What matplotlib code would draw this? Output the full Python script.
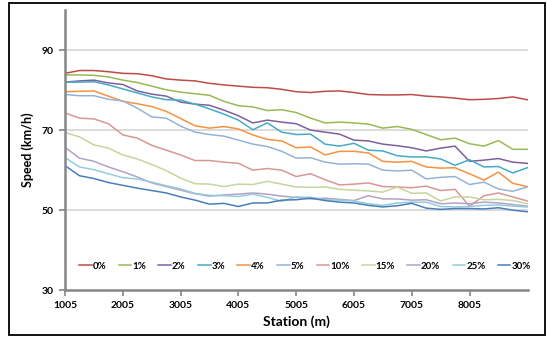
import numpy as np
import matplotlib.pyplot as plt
from matplotlib.patches import Rectangle

# stations every 250 m
station = np.arange(1005, 9006, 250)

labels = ['0%', '1%', '2%', '3%', '4%', '5%', '10%', '15%', '20%', '25%', '30%']
colors = ['#BE4B48', '#98B954', '#7D60A0', '#46AAC5', '#F69240', '#95B3D7',
          '#D99694', '#C3D69B', '#B3A2C7', '#93CDDD', '#4A7EBB']

s0 = [84.2, 84.9, 84.9, 84.6, 84.2, 84.1, 83.6, 82.8, 82.5, 82.3, 81.7, 81.3, 81.0, 80.7, 80.6, 80.2, 79.6,
      79.4, 79.7, 79.8, 79.4, 78.9, 78.8, 78.8, 78.9, 78.5, 78.3, 78.0, 77.6, 77.7, 77.9, 78.3, 77.6]
s1 = [83.8, 83.8, 83.7, 83.3, 82.5, 81.9, 81.0, 80.1, 79.5, 79.1, 78.7, 77.2, 76.1, 75.8, 74.9, 75.1, 74.4,
      73.0, 71.8, 72.0, 71.8, 71.5, 70.5, 70.9, 70.2, 68.9, 67.6, 68.0, 66.6, 66.0, 67.4, 65.2, 65.2]
s2 = [82.0, 82.3, 82.5, 81.8, 81.4, 79.8, 79.0, 78.5, 77.0, 76.5, 76.2, 75.0, 73.6, 71.8, 72.5, 72.0, 71.6,
      70.0, 69.5, 69.0, 67.5, 67.3, 66.5, 66.1, 65.6, 64.8, 65.5, 66.0, 62.2, 62.5, 62.9, 62.0, 61.7]
s3 = [82.0, 82.0, 82.1, 81.3, 80.3, 79.3, 78.3, 77.6, 77.5, 76.5, 75.3, 74.0, 72.5, 70.1, 71.8, 69.5, 68.9,
      69.0, 66.5, 66.0, 66.7, 65.0, 64.8, 63.6, 63.3, 63.3, 62.8, 61.2, 62.6, 60.8, 60.9, 59.3, 60.6]
s4 = [79.6, 79.7, 79.8, 78.5, 77.2, 76.6, 75.9, 74.7, 72.9, 71.1, 70.5, 70.9, 70.3, 68.8, 67.7, 67.3, 65.6,
      65.8, 63.8, 64.7, 64.7, 64.3, 62.2, 62.0, 62.2, 60.8, 60.5, 60.6, 59.1, 57.5, 59.5, 56.7, 55.9]
s5 = [78.9, 78.6, 78.6, 77.7, 77.3, 75.5, 73.3, 73.0, 71.0, 69.5, 68.9, 68.5, 67.5, 66.5, 65.9, 64.7, 63.0,
      63.1, 62.0, 61.5, 61.6, 61.5, 60.0, 59.8, 60.0, 57.8, 58.2, 58.4, 56.4, 57.0, 55.3, 54.7, 55.8]
s10 = [74.3, 73.0, 72.8, 71.6, 68.8, 68.0, 66.2, 65.0, 63.8, 62.4, 62.4, 62.0, 61.7, 60.0, 60.4, 60.0, 58.4,
       59.1, 57.6, 56.3, 56.5, 56.8, 55.9, 55.8, 55.6, 56.0, 54.9, 55.2, 51.0, 53.6, 54.3, 53.3, 52.3]
s15 = [69.4, 68.3, 66.3, 65.5, 63.8, 62.8, 61.4, 59.9, 58.0, 56.6, 56.5, 55.9, 56.5, 56.4, 57.2, 56.5, 55.8,
       55.7, 55.8, 55.2, 55.0, 54.8, 54.5, 55.8, 54.2, 54.3, 52.3, 53.3, 53.3, 52.6, 52.7, 52.4, 51.6]
s20 = [65.7, 63.0, 62.2, 60.8, 59.6, 58.3, 56.8, 55.9, 55.0, 54.1, 53.5, 53.8, 54.0, 54.3, 54.0, 53.5, 53.2,
       52.8, 53.0, 52.7, 52.4, 53.6, 52.8, 52.8, 52.5, 52.6, 51.6, 51.8, 51.6, 52.0, 51.8, 51.4, 51.0]
s25 = [63.1, 60.8, 60.1, 59.1, 58.1, 57.8, 57.0, 56.1, 55.3, 54.2, 53.7, 53.6, 53.4, 54.0, 53.2, 52.2, 53.3,
       53.2, 52.6, 52.5, 52.3, 51.6, 51.2, 51.8, 52.0, 52.0, 50.9, 50.8, 50.9, 51.2, 51.3, 51.0, 50.8]
s30 = [61.1, 58.6, 57.9, 56.9, 56.2, 55.5, 54.9, 54.3, 53.3, 52.5, 51.5, 51.7, 50.9, 51.8, 51.8, 52.5, 52.6,
       53.0, 52.4, 52.0, 51.8, 51.2, 50.8, 51.1, 51.7, 50.5, 50.2, 50.4, 50.4, 50.3, 50.6, 50.0, 49.6]
series = [s0, s1, s2, s3, s4, s5, s10, s15, s20, s25, s30]

xticks = [1005, 2005, 3005, 4005, 5005, 6005, 7005, 8005]
yticks = [30, 50, 70, 90]

plt.rcParams['font.family'] = ['Lato', 'DejaVu Sans']

fig = plt.figure(figsize=(5.47, 3.37), dpi=100)
ax = fig.add_axes([0.119, 0.139, 0.846, 0.831])

for y, lab, c in zip(series, labels, colors):
    ax.plot(station, y, color=c, lw=1.1, label=lab)

ax.set_xlim(1005, 9015)
ax.set_ylim(30, 100)
ax.set_xticks(xticks)
ax.set_yticks(yticks)
ax.tick_params(labelsize=7.5, length=4, width=1.2, color='#868686', direction='out', pad=4)
for t in ax.get_xticklabels() + ax.get_yticklabels():
    t.set_fontweight('bold')

#grid only at 50, 70, 90
for g in [50, 70, 90]:
    ax.axhline(g, color='#D9D9D9', lw=1.3, zorder=0)

for sp in ['top', 'right']:
    ax.spines[sp].set_visible(False)
for sp in ['left', 'bottom']:
    ax.spines[sp].set_color('#868686')
    ax.spines[sp].set_linewidth(1.8)

ax.set_xlabel('Station (m)', fontsize=10, fontweight='bold', labelpad=4)
ax.set_ylabel('Speed (km/h)', fontsize=9, fontweight='bold', labelpad=6)

ax.legend(loc='center', bbox_to_anchor=(0.518, 0.085), ncol=11, frameon=False,
          handlelength=1.3, handletextpad=0.1, columnspacing=1.27,
          prop={'weight': 'bold', 'size': 7})

#outer frame
fig.patches.append(Rectangle((0.016, 0.006), 0.98, 0.985, transform=fig.transFigure,
                             fill=False, edgecolor='black', lw=1.3))

fig.savefig('out.png', dpi=100)
